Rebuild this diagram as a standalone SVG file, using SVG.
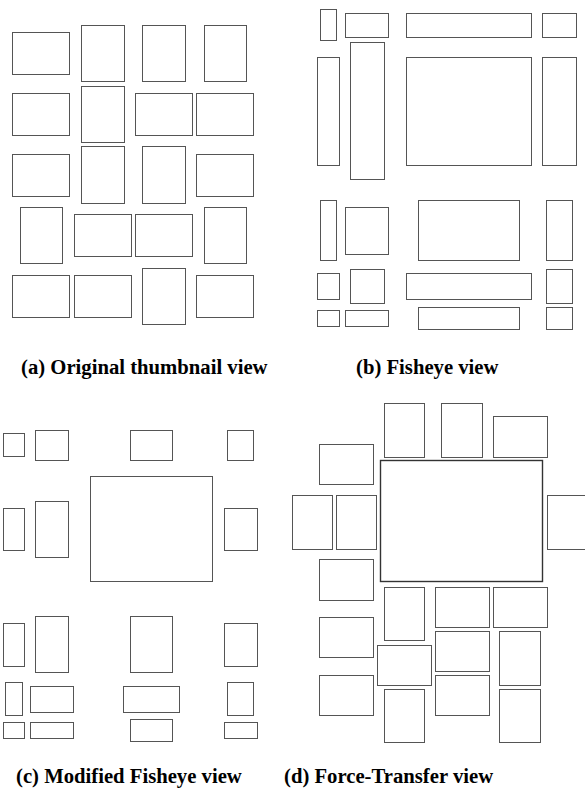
<svg xmlns="http://www.w3.org/2000/svg" width="585" height="789" viewBox="0 0 585 789">
<style>
rect{fill:#fff;stroke:#555;stroke-width:1}
.big{stroke:#333;stroke-width:1.4}
.cap{font-weight:bold;font-size:20.7px;fill:#000}
</style>
<rect x="0" y="0" width="585" height="789" style="stroke:none"/>
<g id="panel-a">
<rect x="12.5" y="32.5" width="57" height="42"/>
<rect x="81.5" y="25.5" width="43" height="56"/>
<rect x="142.5" y="25.5" width="43" height="56"/>
<rect x="204.5" y="25.5" width="42" height="56"/>
<rect x="12.5" y="93.5" width="57" height="42"/>
<rect x="81.5" y="86.5" width="43" height="56"/>
<rect x="135.5" y="93.5" width="57" height="42"/>
<rect x="196.5" y="93.5" width="57" height="42"/>
<rect x="12.5" y="154.5" width="57" height="42"/>
<rect x="81.5" y="146.5" width="43" height="57"/>
<rect x="142.5" y="146.5" width="43" height="57"/>
<rect x="196.5" y="154.5" width="57" height="42"/>
<rect x="20.5" y="207.5" width="42" height="56"/>
<rect x="74.5" y="214.5" width="57" height="42"/>
<rect x="135.5" y="214.5" width="57" height="42"/>
<rect x="204.5" y="207.5" width="42" height="56"/>
<rect x="12.5" y="275.5" width="57" height="42"/>
<rect x="74.5" y="275.5" width="57" height="42"/>
<rect x="142.5" y="268.5" width="43" height="56"/>
<rect x="196.5" y="275.5" width="57" height="42"/>
</g>
<g id="panel-b">
<rect x="320.5" y="9.5" width="16" height="31"/>
<rect x="345.5" y="13.5" width="43" height="24"/>
<rect x="406.5" y="13.5" width="125" height="24"/>
<rect x="542.5" y="13.5" width="34" height="24"/>
<rect x="317.5" y="57.5" width="22" height="108"/>
<rect x="350.5" y="42.5" width="34" height="137"/>
<rect x="406.5" y="57.5" width="125" height="108"/>
<rect x="542.5" y="57.5" width="34" height="108"/>
<rect x="320.5" y="200.5" width="16" height="60"/>
<rect x="345.5" y="207.5" width="43" height="47"/>
<rect x="418.5" y="200.5" width="101" height="60"/>
<rect x="546.5" y="200.5" width="26" height="60"/>
<rect x="317.5" y="273.5" width="22" height="26"/>
<rect x="350.5" y="269.5" width="34" height="34"/>
<rect x="406.5" y="273.5" width="125" height="26"/>
<rect x="546.5" y="269.5" width="26" height="34"/>
<rect x="317.5" y="310.5" width="22" height="16"/>
<rect x="345.5" y="310.5" width="43" height="16"/>
<rect x="418.5" y="307.5" width="101" height="22"/>
<rect x="546.5" y="307.5" width="26" height="22"/>
</g>
<g id="panel-c">
<rect x="3.5" y="433.5" width="21" height="23"/>
<rect x="35.5" y="430.5" width="33" height="30"/>
<rect x="130.5" y="430.5" width="42" height="30"/>
<rect x="227.5" y="430.5" width="26" height="30"/>
<rect x="3.5" y="508.5" width="21" height="42"/>
<rect x="35.5" y="501.5" width="33" height="56"/>
<rect x="90.5" y="476.5" width="122" height="105"/>
<rect x="224.5" y="508.5" width="33" height="42"/>
<rect x="3.5" y="623.5" width="21" height="43"/>
<rect x="35.5" y="616.5" width="33" height="56"/>
<rect x="130.5" y="616.5" width="42" height="56"/>
<rect x="224.5" y="623.5" width="33" height="43"/>
<rect x="5.5" y="682.5" width="17" height="33"/>
<rect x="30.5" y="686.5" width="43" height="26"/>
<rect x="123.5" y="686.5" width="56" height="26"/>
<rect x="227.5" y="682.5" width="26" height="33"/>
<rect x="3.5" y="722.5" width="21" height="16"/>
<rect x="30.5" y="722.5" width="43" height="16"/>
<rect x="130.5" y="719.5" width="42" height="22"/>
<rect x="224.5" y="722.5" width="33" height="16"/>
</g>
<g id="panel-d">
<rect x="384.5" y="403.5" width="40" height="54"/>
<rect x="441.5" y="403.5" width="41" height="54"/>
<rect x="493.5" y="416.5" width="54" height="41"/>
<rect x="319.5" y="444.5" width="54" height="40"/>
<rect class="big" x="380.5" y="460.5" width="162" height="121"/>
<rect x="292.5" y="495.5" width="40" height="54"/>
<rect x="336.5" y="495.5" width="40" height="54"/>
<rect x="547.5" y="495.5" width="41" height="54"/>
<rect x="319.5" y="559.5" width="54" height="41"/>
<rect x="384.5" y="587.5" width="40" height="53"/>
<rect x="435.5" y="587.5" width="54" height="40"/>
<rect x="493.5" y="587.5" width="54" height="40"/>
<rect x="319.5" y="617.5" width="54" height="40"/>
<rect x="377.5" y="645.5" width="54" height="40"/>
<rect x="435.5" y="631.5" width="54" height="40"/>
<rect x="499.5" y="631.5" width="41" height="54"/>
<rect x="319.5" y="675.5" width="54" height="40"/>
<rect x="384.5" y="689.5" width="40" height="53"/>
<rect x="435.5" y="675.5" width="54" height="40"/>
<rect x="499.5" y="689.5" width="41" height="53"/>
</g>
<g id="connectors"/>
<g id="captions" font-family="'Liberation Serif', 'DejaVu Serif', serif">
<text class="cap" x="21" y="374">(a) Original thumbnail view</text>
<text class="cap" x="356" y="374">(b) Fisheye view</text>
<text class="cap" x="16" y="783">(c) Modified Fisheye view</text>
<text class="cap" x="284" y="783">(d) Force-Transfer view</text>
</g>
</svg>
